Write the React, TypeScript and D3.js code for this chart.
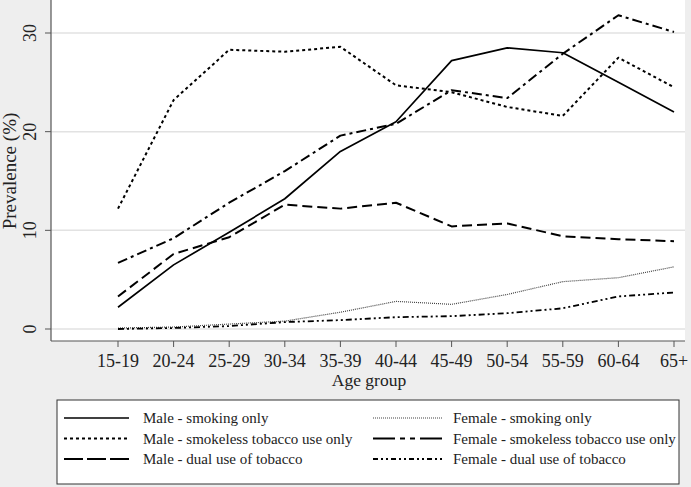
import React from "react";
import * as d3 from "d3";

const ageGroups = ["15-19", "20-24", "25-29", "30-34", "35-39", "40-44", "45-49", "50-54", "55-59", "60-64", "65+"];
const yTicks = [0, 10, 20, 30];

const maleSmoking = [2.2, 6.5, 9.8, 13.2, 18.0, 21.0, 27.2, 28.5, 28.0, 25.0, 22.0];
const maleSmokeless = [12.2, 23.2, 28.3, 28.1, 28.6, 24.7, 24.0, 22.5, 21.6, 27.5, 24.5];
const maleDual = [3.3, 7.6, 9.3, 12.6, 12.2, 12.8, 10.4, 10.7, 9.4, 9.1, 8.9];
const femaleSmoking = [0.1, 0.2, 0.5, 0.8, 1.7, 2.8, 2.5, 3.5, 4.8, 5.2, 6.3];
const femaleSmokeless = [6.7, 9.2, 12.8, 16.0, 19.6, 20.8, 24.2, 23.4, 27.9, 31.8, 30.1];
const femaleDual = [0.0, 0.1, 0.3, 0.7, 0.9, 1.2, 1.3, 1.6, 2.1, 3.3, 3.7];

const seriesNames = [
  "Male - smoking only",
  "Male - smokeless tobacco use only",
  "Male - dual use of tobacco",
  "Female - smoking only",
  "Female - smokeless tobacco use only",
  "Female - dual use of tobacco",
];

const styles = [
  { dash: "none", width: 1.7, color: "#000", legendDash: "none" },
  { dash: "3,3", width: 2, color: "#000", legendDash: "3,3" },
  { dash: "10,5", width: 2, color: "#000", legendDash: "19,4" },
  { dash: "1,1", width: 1.2, color: "#444", legendDash: "1,1" },
  { dash: "10,4,3,4", width: 2, color: "#000", legendDash: "22,5,5,5,5,5" },
  { dash: "6,3,2,3,2,3", width: 1.8, color: "#000", legendDash: "5,3,2,3,2,3" },
];

const FONT = "'Liberation Serif', 'Times New Roman', serif";

export default function App() {
  const W = 691, H = 487;
  const plotL = 51, plotR = 685, plotT = 0, plotB = 341;
  const x = d3.scalePoint<string>().domain(ageGroups).range([118, 674]);
  const y = d3.scaleLinear().domain([0, 30]).range([329, 33]);
  const series = [maleSmoking, maleSmokeless, maleDual, femaleSmoking, femaleSmokeless, femaleDual];
  const line = d3
    .line<number>()
    .x((_, i) => x(ageGroups[i]) as number)
    .y((d) => y(d));

  const legendRows = [418, 438.5, 459];
  const legendCols = [
    { lx0: 64, lx1: 129, tx: 143 },
    { lx0: 373, lx1: 442, tx: 453 },
  ];

  return (
    <svg width={W} height={H} style={{ position: "fixed", left: 0, top: 0, fontFamily: FONT }}>
      <rect x={0} y={0} width={W} height={H} fill="#eeeeee" />
      <rect x={plotL} y={plotT} width={plotR - plotL} height={plotB - plotT} fill="#fff" />
      {yTicks.map((t) => (
        <g key={t}>
          <line x1={plotL} x2={plotR} y1={y(t)} y2={y(t)} stroke="#e2e2e2" strokeWidth={1.5} />
          <line x1={plotL - 6} x2={plotL} y1={y(t)} y2={y(t)} stroke="#555" strokeWidth={1} />
          <text
            transform={`translate(${36},${y(t)}) rotate(-90)`}
            textAnchor="middle"
            fontSize={18}
            fill="#222"
          >
            {t}
          </text>
        </g>
      ))}
      <line x1={plotL} x2={plotL} y1={plotT} y2={plotB} stroke="#555" strokeWidth={1.2} />
      <line x1={plotL} x2={plotR} y1={plotB} y2={plotB} stroke="#555" strokeWidth={1.2} />
      {ageGroups.map((g) => (
        <g key={g}>
          <line x1={x(g)} x2={x(g)} y1={plotB} y2={plotB + 6} stroke="#555" strokeWidth={1} />
          <text x={x(g)} y={366.5} textAnchor="middle" fontSize={18} fill="#222">
            {g}
          </text>
        </g>
      ))}
      <text x={369} y={386} textAnchor="middle" fontSize={17.5} fill="#222">
        Age group
      </text>
      <text
        transform={`translate(${16},${171}) rotate(-90)`}
        textAnchor="middle"
        fontSize={19}
        fill="#222"
      >
        Prevalence (%)
      </text>
      {series.map((s, i) => (
        <path
          key={i}
          d={line(s) || ""}
          fill="none"
          stroke={styles[i].color}
          strokeWidth={styles[i].width}
          strokeDasharray={styles[i].dash}
          strokeLinejoin="round"
        />
      ))}
      <rect x={57} y={400} width={622} height={84} fill="#fff" stroke="#333" strokeWidth={1} />
      {seriesNames.map((name, i) => {
        const col = legendCols[Math.floor(i / 3)];
        const ry = legendRows[i % 3];
        return (
          <g key={name}>
            <line
              x1={col.lx0}
              x2={col.lx1}
              y1={ry}
              y2={ry}
              stroke={styles[i].color}
              strokeWidth={styles[i].width}
              strokeDasharray={styles[i].legendDash}
            />
            <text x={col.tx} y={ry} dominantBaseline="central" fontSize={15} fill="#222">
              {name}
            </text>
          </g>
        );
      })}
    </svg>
  );
}
